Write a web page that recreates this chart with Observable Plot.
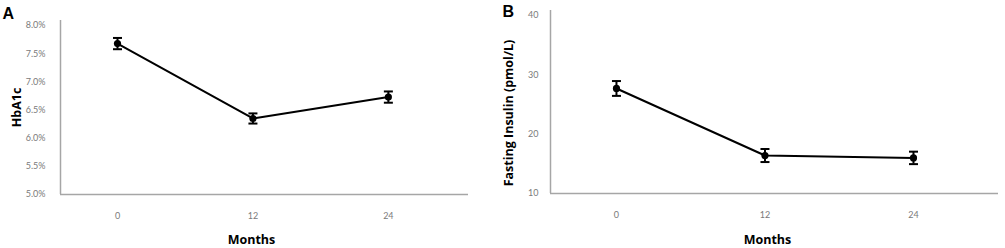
<!DOCTYPE html>
<html>
<head>
<meta charset="utf-8">
<script src="https://cdn.jsdelivr.net/npm/d3@7"></script>
<script src="https://cdn.jsdelivr.net/npm/@observablehq/plot@0.6"></script>
<style>
  html, body { margin: 0; padding: 0; background: #fff; }
  #wrap { position: relative; width: 1005px; height: 248px; overflow: hidden; background: #fff; }
  #wrap > svg { position: absolute; top: 0; }
</style>
</head>
<body>
<div id="wrap"></div>
<script>
const months = [0, 12, 24];
const hba1cMean = [7.68, 6.35, 6.73];
const hba1cErr = [0.10, 0.09, 0.10];
const insulinMean = [27.7, 16.4, 16.0];
const insulinErr = [1.25, 1.1, 1.05];
const hba1cTicks = [5.0, 5.5, 6.0, 6.5, 7.0, 7.5, 8.0];
const insulinTicks = [10, 20, 30, 40];

const capSymbol = {
  draw(context, size) {
    const w = Math.sqrt(size / Math.PI);
    context.moveTo(-w, 0);
    context.lineTo(w, 0);
  }
};

function panel({letter, ylabel, means, errs, yTicks, yDomain, xDomain, yFmt, width, marginLeft, marginRight, marginTop, marginBottom, tickPad, letterDx, letterDy, ylabDx, ylabDy, monthsDx, monthsDy}) {
  const data = months.map((m, i) => ({m, v: means[i], e: errs[i]}));
  return Plot.plot({
    width, height: 248,
    marginLeft, marginRight, marginTop, marginBottom,
    style: {fontFamily: "Lato, 'Open Sans', sans-serif", fontSize: "9px", color: "#7a7a7a", background: "#fff", overflow: "visible"},
    x: {domain: xDomain, ticks: months, tickSize: 0, tickPadding: 18, tickFormat: d => String(d), label: null},
    y: {domain: yDomain, ticks: yTicks, tickSize: 0, tickPadding: tickPad, tickFormat: yFmt, label: null},
    marks: [
      Plot.ruleY([yDomain[0]], {x1: xDomain[0], x2: xDomain[1], stroke: "#a6a6a6", strokeWidth: 1.5}),
      Plot.ruleX([xDomain[0]], {y1: yDomain[0], y2: yDomain[1], stroke: "#a6a6a6", strokeWidth: 1.5}),
      Plot.line(data, {x: "m", y: "v", stroke: "#000", strokeWidth: 2}),
      Plot.ruleX(data, {x: "m", y1: d => d.v - d.e, y2: d => d.v + d.e, stroke: "#000", strokeWidth: 2}),
      Plot.dot(data, {x: "m", y: d => d.v + d.e, symbol: capSymbol, r: 4.5, stroke: "#000", fill: "none", strokeWidth: 2}),
      Plot.dot(data, {x: "m", y: d => d.v - d.e, symbol: capSymbol, r: 4.5, stroke: "#000", fill: "none", strokeWidth: 2}),
      Plot.dot(data, {x: "m", y: "v", r: 3.6, fill: "#000", stroke: "none"}),
      Plot.text([letter], {frameAnchor: "top-left", textAnchor: "start", lineAnchor: "top", dx: letterDx, dy: letterDy, fill: "#000", fontSize: 16, fontWeight: "bold", fontFamily: "Arial, 'Liberation Sans', sans-serif"}),
      Plot.text([ylabel], {frameAnchor: "left", textAnchor: "middle", lineAnchor: "middle", rotate: -90, dx: ylabDx, dy: ylabDy, fill: "#000", fontSize: 12.5, fontWeight: "bold", fontFamily: "'Open Sans', Lato, sans-serif"}),
      Plot.text(["Months"], {frameAnchor: "bottom", textAnchor: "middle", lineAnchor: "bottom", dx: monthsDx, dy: monthsDy, fill: "#000", fontSize: 12.5, fontWeight: "bold", fontFamily: "'Open Sans', Lato, sans-serif"})
    ]
  });
}

const wrap = document.getElementById("wrap");

const a = panel({
  letter: "A", ylabel: "HbA1c",
  means: hba1cMean, errs: hba1cErr, yTicks: hba1cTicks,
  yDomain: [5.0, 8.09], xDomain: [-5.05, 31.1],
  yFmt: d => d.toFixed(1) + "%",
  width: 500, marginLeft: 60, marginRight: 32, marginTop: 20, marginBottom: 54,
  tickPad: 15, letterDx: -58, letterDy: -13, ylabDx: -44, ylabDy: 0, monthsDx: -13, monthsDy: 49
});
a.style.left = "0px";
wrap.appendChild(a);

const b = panel({
  letter: "B", ylabel: "Fasting Insulin (pmol/L)",
  means: insulinMean, errs: insulinErr, yTicks: insulinTicks,
  yDomain: [10, 40.84], xDomain: [-5.33, 30.87],
  yFmt: d => String(d),
  width: 505, marginLeft: 50, marginRight: 7, marginTop: 10, marginBottom: 55,
  tickPad: 12, letterDx: -48, letterDy: -5, ylabDx: -42, ylabDy: 11, monthsDx: -7, monthsDy: 50
});
b.style.left = "500px";
wrap.appendChild(b);
</script>
</body>
</html>
